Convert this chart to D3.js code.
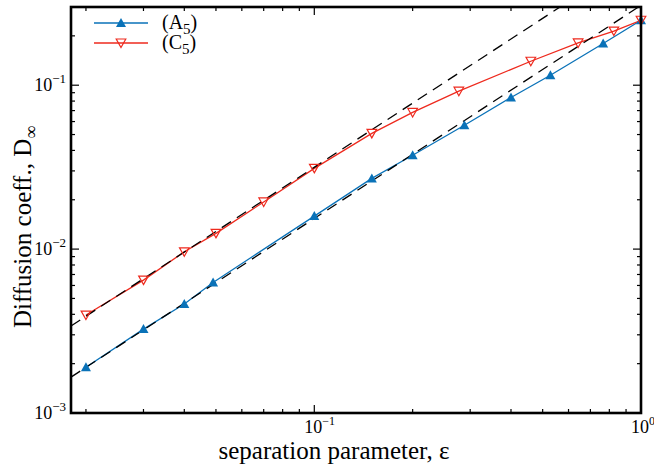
<!DOCTYPE html>
<html><head><meta charset="utf-8">
<script src="https://cdn.jsdelivr.net/npm/d3@7"></script>
<style>body{margin:0;background:#fff}</style>
</head><body>
<svg id="c" width="654" height="464"></svg>
<script>
// ---- data ----
const epsA = [0.02, 0.03, 0.04, 0.049, 0.1, 0.15, 0.2, 0.288, 0.4, 0.528, 0.766, 1.0];
const dA   = [0.0019, 0.00325, 0.00462, 0.00626, 0.0159, 0.0270, 0.0374, 0.0570, 0.0841, 0.115, 0.1796, 0.249];
const epsC = [0.02, 0.03, 0.04, 0.05, 0.07, 0.1, 0.15, 0.2, 0.277, 0.46, 0.642, 0.826, 1.0];
const dC   = [0.00396, 0.00647, 0.00963, 0.01247, 0.0194, 0.0311, 0.0508, 0.0682, 0.0919, 0.140, 0.181, 0.214, 0.249];
const seriesNames = ["A", "C"];
const seriesSub = ["5", "5"];
const fitPrefactor = [0.307, 0.63];
const fitExponent = [1.3, 1.3];
const xDomain = [0.018, 1];
const yDomain = [1e-3, 0.3];
const xMajorTicks = [0.1, 1];
const xTickExp = ["−1", "0"];
const yMajorTicks = [1e-3, 1e-2, 1e-1];
const yTickExp = ["−3", "−2", "−1"];
const xLabel = "separation parameter, ε";
const yLabel = "Diffusion coeff., D";
const yLabelSub = "∞";

// ---- layout ----
const W = 654, H = 464;
const m = {l: 71, r: 13, t: 7, b: 51};
const pw = W - m.l - m.r, ph = H - m.t - m.b;
const svg = d3.select("#c");
const x = d3.scaleLog().domain(xDomain).range([m.l, m.l + pw]);
const y = d3.scaleLog().domain(yDomain).range([m.t + ph, m.t]);
const blue = "#0a72b8", red = "#ee2a1e";
const serif = "'Liberation Serif','Times New Roman',serif";

svg.append("defs").append("clipPath").attr("id", "clip")
  .append("rect").attr("x", m.l).attr("y", m.t).attr("width", pw).attr("height", ph);

// minor ticks
function minors(dom) {
  const out = [];
  for (let e = -4; e <= 1; e++) for (let k = 2; k <= 9; k++) {
    const v = k * Math.pow(10, e);
    if (v > dom[0] && v < dom[1]) out.push(v);
  }
  return out;
}
const tk = svg.append("g").attr("stroke", "#000").attr("stroke-width", 1.2);
xMajorTicks.forEach(v => {
  tk.append("line").attr("x1", x(v)).attr("x2", x(v)).attr("y1", m.t + ph).attr("y2", m.t + ph - 8);
  tk.append("line").attr("x1", x(v)).attr("x2", x(v)).attr("y1", m.t).attr("y2", m.t + 8);
});
minors(xDomain).forEach(v => {
  tk.append("line").attr("x1", x(v)).attr("x2", x(v)).attr("y1", m.t + ph).attr("y2", m.t + ph - 4);
  tk.append("line").attr("x1", x(v)).attr("x2", x(v)).attr("y1", m.t).attr("y2", m.t + 4);
});
yMajorTicks.forEach(v => {
  tk.append("line").attr("y1", y(v)).attr("y2", y(v)).attr("x1", m.l).attr("x2", m.l + 8);
  tk.append("line").attr("y1", y(v)).attr("y2", y(v)).attr("x1", m.l + pw).attr("x2", m.l + pw - 8);
});
minors(yDomain).forEach(v => {
  tk.append("line").attr("y1", y(v)).attr("y2", y(v)).attr("x1", m.l).attr("x2", m.l + 4);
  tk.append("line").attr("y1", y(v)).attr("y2", y(v)).attr("x1", m.l + pw).attr("x2", m.l + pw - 4);
});

// series
const line = d3.line().x(d => x(d[0])).y(d => y(d[1]));
const A = epsA.map((e, i) => [e, dA[i]]);
const C = epsC.map((e, i) => [e, dC[i]]);
const g = svg.append("g").attr("clip-path", "url(#clip)");
g.append("path").attr("d", line(A)).attr("fill", "none").attr("stroke", blue).attr("stroke-width", 1.3);
g.append("path").attr("d", line(C)).attr("fill", "none").attr("stroke", red).attr("stroke-width", 1.3);

// fit lines (power law)
fitPrefactor.forEach((c, i) => {
  const pts = xDomain.map(e => [e, c * Math.pow(e, fitExponent[i])]);
  g.append("path").attr("d", line(pts)).attr("fill", "none").attr("stroke", "#000")
    .attr("stroke-width", 1.3).attr("stroke-dasharray", "11,7");
});

const up = "M0,-5L5,4L-5,4Z";
const down = "M0,4.5L4.8,-4L-4.8,-4Z";
svg.append("g").selectAll("path").data(A).join("path")
  .attr("transform", d => `translate(${x(d[0])},${y(d[1])})`).attr("d", up).attr("fill", blue);
svg.append("g").selectAll("path").data(C).join("path")
  .attr("transform", d => `translate(${x(d[0])},${y(d[1])})`).attr("d", down)
  .attr("fill", "none").attr("stroke", red).attr("stroke-width", 1.2);

// frame
svg.append("rect").attr("x", m.l).attr("y", m.t).attr("width", pw).attr("height", ph)
  .attr("fill", "none").attr("stroke", "#000").attr("stroke-width", 2.6);

// tick labels
const tl = svg.append("g").attr("font-family", serif).attr("font-size", 18).attr("fill", "#000");
xMajorTicks.forEach((v, i) => {
  const t = tl.append("text").attr("x", x(v) - 10).attr("y", m.t + ph + 20).attr("text-anchor", "start");
  t.append("tspan").text("10");
  t.append("tspan").attr("dy", -8).attr("font-size", 12).text(xTickExp[i]);
});
yMajorTicks.forEach((v, i) => {
  const t = tl.append("text").attr("x", m.l - 5).attr("y", y(v) + 6).attr("text-anchor", "end");
  t.append("tspan").text("10");
  t.append("tspan").attr("dy", -8).attr("font-size", 13).text(yTickExp[i]);
});

// axis labels
svg.append("text").attr("x", 334).attr("y", 459).attr("text-anchor", "middle")
  .attr("font-family", serif).attr("font-size", 25).text(xLabel);
const yl = svg.append("text").attr("transform", "translate(31,227) rotate(-90)").attr("text-anchor", "middle")
  .attr("font-family", serif).attr("font-size", 25);
yl.append("tspan").text(yLabel);
yl.append("tspan").attr("dy", 6).attr("font-size", 18).text(yLabelSub);

// legend
const lg = svg.append("g");
[[blue, up, blue, "none", 23], [red, down, "none", red, 43]].forEach((s, i) => {
  const yy = s[4];
  lg.append("line").attr("x1", 94).attr("x2", 148).attr("y1", yy).attr("y2", yy)
    .attr("stroke", s[0]).attr("stroke-width", 1.3);
  lg.append("path").attr("transform", `translate(121,${yy})`).attr("d", s[1])
    .attr("fill", s[2]).attr("stroke", s[3]).attr("stroke-width", 1.2);
  const t = lg.append("text").attr("x", 162).attr("y", yy + 6).attr("font-family", serif).attr("font-size", 20);
  t.append("tspan").text("(" + seriesNames[i]);
  t.append("tspan").attr("dy", 5).attr("font-size", 15).text(seriesSub[i]);
  t.append("tspan").attr("dy", -5).text(")");
});
</script>
</body></html>
